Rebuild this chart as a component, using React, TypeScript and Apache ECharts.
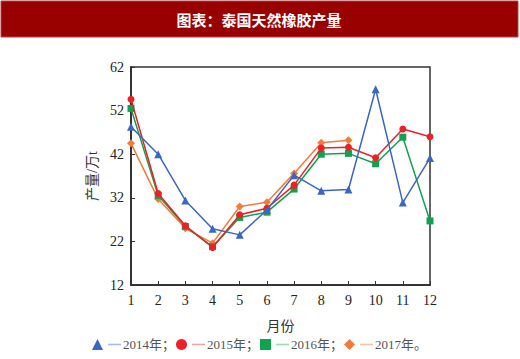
import React, { useEffect, useRef } from "react";
import * as echarts from "echarts";

const months = ["1", "2", "3", "4", "5", "6", "7", "8", "9", "10", "11", "12"];
const seriesNames = ["2014年", "2015年", "2016年", "2017年"];
const s2014 = [48.3, 42.0, 31.4, 24.9, 23.5, 29.2, 37.2, 33.6, 33.9, 56.9, 30.9, 41.1];
const s2015 = [54.6, 33.0, 25.6, 20.6, 28.1, 29.6, 34.9, 43.4, 43.6, 41.2, 47.8, 46.0];
const s2016 = [52.5, 32.5, 25.4, 20.8, 27.5, 28.7, 34.0, 42.0, 42.2, 39.8, 45.9, 26.7];
const s2017 = [44.5, 31.7, 25.0, 21.6, 30.0, 31.0, 37.6, 44.6, 45.2];
const yTicks = { min: 12, max: 62, interval: 10 };

const colors = ["#3a66c4", "#ec2027", "#12a14f", "#f47a3a"];
const dashColors = ["#a8bce6", "#f4a3a3", "#9fd9b6", "#f8c2a2"];
const symbols = ["triangle", "circle", "rect", "diamond"];
const symbolSizes = [8, 7, 7, 8];

const FONT = "'Liberation Serif', 'DejaVu Serif', 'Noto Sans CJK SC', serif";

export default function App() {
  const ref = useRef<HTMLDivElement>(null);
  useEffect(() => {
    if (!ref.current) return;
    const chart = echarts.init(ref.current, null, { renderer: "svg" });
    const all = [s2014, s2015, s2016, s2017];
    const rich: any = {
      t: { fontSize: 13, fontFamily: FONT, color: "#555", padding: [0, 0, 0, 2] },
    };
    dashColors.forEach((c, i) => {
      rich["d" + i] = { width: 13, height: 1.6, backgroundColor: c, fontSize: 2 };
    });
    chart.setOption({
      animation: false,
      backgroundColor: "#ffffff",
      graphic: [
        {
          type: "rect",
          shape: { x: 1, y: 1, width: 517, height: 36 },
          style: { fill: "#990000", stroke: "#b84040", lineWidth: 1 },
        },
        {
          type: "text",
          x: 259,
          y: 19,
          style: {
            text: "图表：泰国天然橡胶产量",
            fill: "#ffffff",
            font: "bold 15px 'Noto Sans CJK SC', serif",
            textAlign: "center",
            textVerticalAlign: "middle",
          },
        },
      ],
      grid: {
        left: 131,
        top: 67,
        right: 90,
        bottom: 74,
        show: true,
        borderColor: "#333",
        borderWidth: 1.5,
        backgroundColor: "transparent",
      },
      legend: {
        left: 87,
        top: 333,
        itemWidth: 11,
        itemHeight: 11,
        itemGap: 1,
        data: seriesNames.map((n, i) => ({ name: n, icon: symbols[i] })),
        formatter: (name: string) => {
          const i = seriesNames.indexOf(name);
          return `{d${i}| }{t|${name}${i === 3 ? "。" : "；"}}`;
        },
        textStyle: { rich, fontFamily: FONT, fontSize: 13 },
      },
      xAxis: {
        type: "category",
        data: months,
        boundaryGap: false,
        name: "月份",
        nameLocation: "middle",
        nameGap: 34,
        nameTextStyle: { fontFamily: FONT, fontSize: 14, color: "#333" },
        axisLine: { lineStyle: { color: "#333", width: 2 } },
        axisTick: { inside: true, length: 4, lineStyle: { color: "#333" } },
        axisLabel: { fontFamily: FONT, fontSize: 14, color: "#222", margin: 8 },
        splitLine: { show: false },
      },
      yAxis: {
        type: "value",
        min: yTicks.min,
        max: yTicks.max,
        interval: yTicks.interval,
        name: "产量/万t",
        nameLocation: "middle",
        nameGap: 32,
        nameTextStyle: { fontFamily: FONT, fontSize: 14, color: "#333" },
        axisLine: { show: true, lineStyle: { color: "#333", width: 2 } },
        axisTick: { show: true, inside: true, length: 4, lineStyle: { color: "#333" } },
        axisLabel: { fontFamily: FONT, fontSize: 14, color: "#222", margin: 7 },
        splitLine: { show: false },
      },
      series: all.map((d, i) => ({
        name: seriesNames[i],
        type: "line",
        data: d,
        symbol: symbols[i],
        symbolSize: symbolSizes[i],
        showSymbol: true,
        color: colors[i],
        lineStyle: { width: 1.5, color: colors[i] },
        itemStyle: { color: colors[i] },
        z: 2 + (3 - i),
      })),
    });
    return () => chart.dispose();
  }, []);
  return (
    <div
      ref={ref}
      style={{ position: "fixed", left: 0, top: 0, width: 520, height: 359 }}
    />
  );
}
